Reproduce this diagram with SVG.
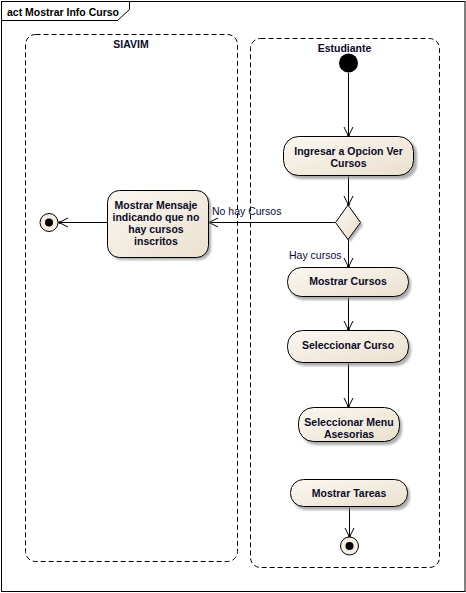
<svg xmlns="http://www.w3.org/2000/svg" width="466" height="593" viewBox="0 0 466 593">
<defs>
<linearGradient id="fillg" x1="0" y1="0" x2="1" y2="1">
<stop offset="0" stop-color="#FBF8F2"/>
<stop offset="1" stop-color="#EAE0CE"/>
</linearGradient>
<filter id="sh" x="-20%" y="-20%" width="140%" height="140%">
<feGaussianBlur stdDeviation="1.2"/>
</filter>
<marker id="arr" markerWidth="12" markerHeight="12" viewBox="-10 -6 12 12" refX="0" refY="0" orient="auto" markerUnits="userSpaceOnUse">
<path d="M-9,-4.5 L0,0 L-9,4.5" fill="none" stroke="#000" stroke-width="1"/>
<circle cx="-0.5" cy="0" r="1.3" fill="#000"/>
</marker>
</defs>
<style>
.frame{fill:none;stroke:#000;stroke-width:1}
.part{fill:none;stroke:#000;stroke-width:1;stroke-dasharray:5,3}
.act{fill:url(#fillg);stroke:#000;stroke-width:1}
.shadow{fill:#8c8c8c;opacity:0.7;filter:url(#sh)}
.lbl{font-family:"Liberation Sans",Arial,sans-serif;font-size:10.5px;font-weight:bold;fill:#0a0a28;text-anchor:middle}
.edge{font-family:"Liberation Sans",Arial,sans-serif;font-size:10.5px;fill:#0a0a40}
.conn{fill:none;stroke:#000;stroke-width:1;marker-end:url(#arr)}
</style>
<rect x="0" y="0" width="466" height="593" fill="#fff"/>
<g id="frame">
<rect class="frame" x="1.5" y="1.5" width="463.5" height="590"/>
<path class="frame" d="M1.5,20.5 L117.5,20.5 L129.5,9.5 L129.5,1.5"/>
<text x="7" y="15.5" class="lbl" style="text-anchor:start;fill:#000">act Mostrar Info Curso</text>
</g>
<g id="SIAVIM">
<rect class="part" x="25.5" y="34.5" width="212" height="527" rx="10" ry="10"/>
<text x="131" y="47.5" class="lbl">SIAVIM</text>
</g>
<g id="Estudiante">
<rect class="part" x="250.5" y="38.5" width="189" height="529" rx="10" ry="10"/>
<text x="344.5" y="51.5" class="lbl">Estudiante</text>
</g>
<g id="connectors">
<path class="conn" d="M348.5,73 L348.5,136"/>
<path class="conn" d="M348.5,176 L348.5,205"/>
<path class="conn" d="M335,222.5 L209,222.5"/>
<path class="conn" d="M348.5,239 L348.5,267"/>
<path class="conn" d="M348.5,297 L348.5,330"/>
<path class="conn" d="M348.5,363 L348.5,407"/>
<path class="conn" d="M349.5,507 L349.5,537"/>
<path class="conn" d="M107,222.5 L59,222.5"/>
<text x="212" y="214.5" class="edge">No hay Cursos</text>
<text x="289" y="259" class="edge">Hay cursos</text>
</g>
<g id="initial">
<circle cx="348.5" cy="63" r="9.5" fill="#000"/>
</g>
<g id="ingresar">
<rect class="shadow" x="286" y="139" width="131" height="40" rx="15"/>
<rect class="act" x="283.5" y="136.5" width="130" height="39" rx="15"/>
<text x="348.5" y="155" class="lbl">Ingresar a Opcion Ver</text>
<text x="348.5" y="167" class="lbl">Cursos</text>
</g>
<g id="decision">
<path class="shadow" d="M350,208 L363,225 L350,242 L338,225 Z"/>
<path d="M348,205 L360.5,222.5 L348,239.5 L335.5,222.5 Z" fill="url(#fillg)" stroke="#000"/>
</g>
<g id="mensaje">
<rect class="shadow" x="110" y="193" width="101" height="67" rx="12"/>
<rect class="act" x="107.5" y="190.5" width="101" height="67" rx="12"/>
<text x="156" y="209" class="lbl">Mostrar Mensaje</text>
<text x="156" y="221" class="lbl">indicando que no</text>
<text x="156" y="233" class="lbl">hay cursos</text>
<text x="156" y="245" class="lbl">inscritos</text>
</g>
<g id="finalLeft">
<circle cx="49" cy="222.5" r="9" fill="#F3EDE2" stroke="#000"/>
<circle cx="49" cy="222.5" r="4" fill="#000"/>
</g>
<g id="mostrarCursos">
<rect class="shadow" x="290" y="270" width="121" height="30" rx="14"/>
<rect class="act" x="287.5" y="267.5" width="121" height="29" rx="14"/>
<text x="348" y="285" class="lbl">Mostrar Cursos</text>
</g>
<g id="seleccionarCurso">
<rect class="shadow" x="290" y="333" width="121" height="33" rx="15"/>
<rect class="act" x="287.5" y="330.5" width="121" height="32" rx="15"/>
<text x="348" y="349" class="lbl">Seleccionar Curso</text>
</g>
<g id="menuAsesorias">
<rect class="shadow" x="301" y="410" width="101" height="35" rx="15"/>
<rect class="act" x="298.5" y="407.5" width="101" height="34" rx="15"/>
<text x="349" y="426" class="lbl">Seleccionar Menu</text>
<text x="349" y="438" class="lbl">Asesorias</text>
</g>
<g id="mostrarTareas">
<rect class="shadow" x="293" y="482" width="117" height="28" rx="13"/>
<rect class="act" x="290.5" y="479.5" width="117" height="27" rx="13"/>
<text x="349" y="497" class="lbl">Mostrar Tareas</text>
</g>
<g id="finalRight">
<circle cx="349.5" cy="546" r="9" fill="#F3EDE2" stroke="#000"/>
<circle cx="349.5" cy="546" r="4" fill="#000"/>
</g>
</svg>
